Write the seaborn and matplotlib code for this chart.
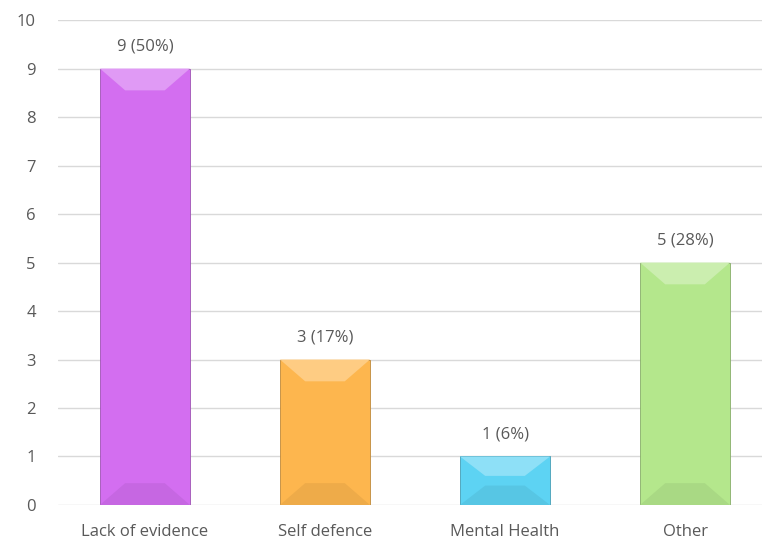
import numpy as np
import pandas as pd
import seaborn as sns
import matplotlib.pyplot as plt
from matplotlib.colors import to_rgb
from matplotlib.patches import Polygon

# data
categories = ['Lack of evidence', 'Self defence', 'Mental Health', 'Other']
counts = [9, 3, 1, 5]
labels = ['9 (50%)', '3 (17%)', '1 (6%)', '5 (28%)']
colors = ['#D36EF0', '#FDB64E', '#5DD3F3', '#B4E78C']

df = pd.DataFrame({'category': categories, 'count': counts})

sns.set_style('white')
plt.rcParams['font.family'] = ['Open Sans', 'DejaVu Sans']

fig = plt.figure(figsize=(7.67, 5.42), dpi=100)
ax = fig.add_axes([0.0756, 0.0683, 0.918, 0.8947])

sns.barplot(data=df, x='category', y='count', hue='category', palette=colors,
            saturation=1, width=0.5, legend=False, ax=ax, zorder=2)

ax.set_ylim(0, 10)
ax.set_xlim(-0.483, 3.428)

# rough bevel: lighter trapezoid on top, slightly darker one at the bottom
for bar, c in zip(ax.patches[:len(counts)], colors):
    x0, y0 = bar.get_x(), bar.get_y()
    w, h = bar.get_width(), bar.get_height()
    rgb = np.array(to_rgb(c))
    light = tuple(rgb + (1 - rgb) * 0.3)
    dark = tuple(rgb * 0.94)
    bar.set_edgecolor(tuple(rgb * 0.75))
    bar.set_linewidth(0.6)
    bh = min(0.45, h * 0.4)
    bw = w * 0.28
    ax.add_patch(Polygon([(x0, y0 + h), (x0 + w, y0 + h), (x0 + w - bw, y0 + h - bh), (x0 + bw, y0 + h - bh)],
                         closed=True, color=light, lw=0, zorder=3))
    ax.add_patch(Polygon([(x0, y0), (x0 + w, y0), (x0 + w - bw, y0 + bh), (x0 + bw, y0 + bh)],
                         closed=True, color=dark, lw=0, zorder=3))

for bar, lab in zip(ax.patches[:len(counts)], labels):
    ax.annotate(lab, (bar.get_x() + bar.get_width() / 2, bar.get_height()),
                xytext=(0, 10), textcoords='offset points', ha='center', va='bottom',
                fontsize=12, color='#595959')

ax.set_yticks(range(0, 11))
ax.yaxis.grid(True, color='#D9D9D9', lw=1, zorder=0)
ax.set_axisbelow(True)
for s in ax.spines.values():
    s.set_visible(False)
ax.tick_params(axis='both', length=0, labelsize=12, labelcolor='#595959')
ax.tick_params(axis='y', pad=16)
ax.tick_params(axis='x', pad=14)
ax.set_xlabel('')
ax.set_ylabel('')

fig.savefig('out.png', dpi=100)
